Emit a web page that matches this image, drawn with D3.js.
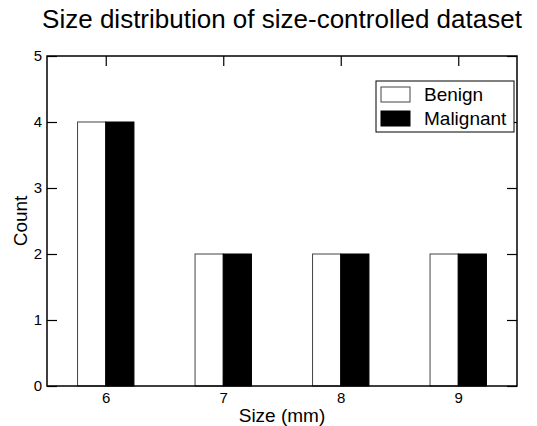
<!DOCTYPE html>
<html>
<head>
<meta charset="utf-8">
<script src="https://cdn.jsdelivr.net/npm/d3@7"></script>
<style>
  body { margin: 0; background: #fff; }
  text { font-family: "Liberation Sans", Arial, sans-serif; fill: #000; }
</style>
</head>
<body>
<div id="chart"></div>
<script>
var sizes = [6, 7, 8, 9];
var benign = [4, 2, 2, 2];
var malignant = [4, 2, 2, 2];
var yTicks = [0, 1, 2, 3, 4, 5];
var seriesNames = ['Benign', 'Malignant'];

var plotLeft = 47, plotRight = 517, plotTop = 56, plotBottom = 386;
var barW = 0.24;

var x = d3.scaleLinear().domain([5.5, 9.5]).range([plotLeft, plotRight]);
var y = d3.scaleLinear().domain([0, 5]).range([plotBottom, plotTop]);

var svg = d3.select('#chart')
  .append('svg')
  .attr('width', 537)
  .attr('height', 426);

// title
svg.append('text')
  .attr('x', 282)
  .attr('y', 28)
  .attr('text-anchor', 'middle')
  .attr('font-size', 26)
  .text('Size distribution of size-controlled dataset');

// axes with inward ticks
var gx = svg.append('g')
  .attr('transform', 'translate(0,' + plotBottom + ')')
  .call(d3.axisBottom(x).tickValues(sizes).tickSize(-10).tickPadding(6).tickFormat(d3.format('d')));
var gxt = svg.append('g')
  .attr('transform', 'translate(0,' + plotTop + ')')
  .call(d3.axisTop(x).tickValues(sizes).tickSize(-10).tickFormat(''));
var gy = svg.append('g')
  .attr('transform', 'translate(' + plotLeft + ',0)')
  .call(d3.axisLeft(y).tickValues(yTicks).tickSize(-10).tickPadding(5).tickFormat(d3.format('d')));
var gyr = svg.append('g')
  .attr('transform', 'translate(' + plotRight + ',0)')
  .call(d3.axisRight(y).tickValues(yTicks).tickSize(-10).tickFormat(''));

[gx, gxt, gy, gyr].forEach(function(g){
  g.select('.domain').remove();
  g.attr('font-size', 15).attr('font-family', '"Liberation Sans", Arial, sans-serif');
  g.selectAll('line').attr('stroke', '#000').attr('stroke-width', 1.2);
  g.selectAll('text').attr('fill', '#000');
});

// bars
var rows = sizes.map(function(s, i){ return {size: s, benign: benign[i], malignant: malignant[i]}; });

svg.selectAll('rect.benign')
  .data(rows)
  .enter()
  .append('rect')
  .classed('benign', true)
  .attr('x', function(d){ return x(d.size - barW); })
  .attr('y', function(d){ return y(d.benign); })
  .attr('width', function(d){ return x(d.size) - x(d.size - barW); })
  .attr('height', function(d){ return y(0) - y(d.benign); })
  .attr('fill', '#fff')
  .attr('stroke', '#444')
  .attr('stroke-width', 1);

svg.selectAll('rect.malignant')
  .data(rows)
  .enter()
  .append('rect')
  .classed('malignant', true)
  .attr('x', function(d){ return x(d.size); })
  .attr('y', function(d){ return y(d.malignant); })
  .attr('width', function(d){ return x(d.size + barW) - x(d.size); })
  .attr('height', function(d){ return y(0) - y(d.malignant); })
  .attr('fill', '#000')
  .attr('stroke', '#000')
  .attr('stroke-width', 1);

// frame
svg.append('rect')
  .attr('x', plotLeft)
  .attr('y', plotTop)
  .attr('width', plotRight - plotLeft)
  .attr('height', plotBottom - plotTop)
  .attr('fill', 'none')
  .attr('stroke', '#000')
  .attr('stroke-width', 1.5);

// axis labels
svg.append('text')
  .attr('x', 282)
  .attr('y', 422)
  .attr('text-anchor', 'middle')
  .attr('font-size', 19)
  .text('Size (mm)');

svg.append('text')
  .attr('transform', 'translate(27,221) rotate(-90)')
  .attr('text-anchor', 'middle')
  .attr('font-size', 19)
  .text('Count');

// legend
var legend = svg.append('g');
legend.append('rect')
  .attr('x', 376).attr('y', 81)
  .attr('width', 138).attr('height', 51)
  .attr('fill', '#fff')
  .attr('stroke', '#000')
  .attr('stroke-width', 1);

var items = legend.selectAll('g.item')
  .data(seriesNames)
  .enter()
  .append('g')
  .classed('item', true)
  .attr('transform', function(d, i){ return 'translate(0,' + i * 24 + ')'; });

items.append('rect')
  .attr('x', 381).attr('y', 87)
  .attr('width', 29).attr('height', 15)
  .attr('fill', function(d, i){ return i === 0 ? '#fff' : '#000'; })
  .attr('stroke', function(d, i){ return i === 0 ? '#444' : '#000'; })
  .attr('stroke-width', 1);

items.append('text')
  .attr('x', 424)
  .attr('y', 101)
  .attr('font-size', 19)
  .text(function(d){ return d; });
</script>
</body>
</html>
